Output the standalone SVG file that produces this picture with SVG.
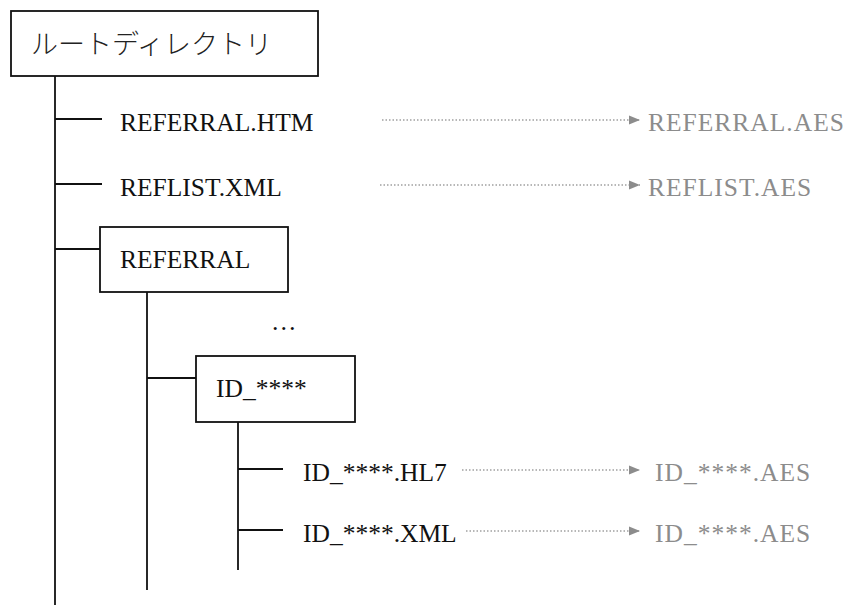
<svg xmlns="http://www.w3.org/2000/svg" width="858" height="614" viewBox="0 0 858 614">
<style>
.box{fill:#fff;stroke:#111;stroke-width:1.8}
.ln{stroke:#111;stroke-width:1.8;fill:none}
.dot{stroke:#a0a0a0;stroke-width:1.3;stroke-dasharray:1.5 2;fill:none}
.t{font-family:"Liberation Serif","Times New Roman",serif;font-size:25.5px;fill:#111}
.g{font-family:"Liberation Serif","Times New Roman",serif;font-size:25.5px;fill:#8c8c8c;letter-spacing:1px}
.jp{font-family:"Noto Sans CJK JP",sans-serif;font-size:27px;fill:#222;font-weight:300}
</style>
<defs>
<marker id="ah" markerWidth="12" markerHeight="10" refX="11" refY="5" orient="auto" markerUnits="userSpaceOnUse">
<path d="M0,0.5 L11,5 L0,9.5 Z" fill="#8c8c8c"/>
</marker>
</defs>
<g id="connectors">
<path class="ln" d="M55,76 V605"/>
<path class="ln" d="M55,119 H102"/>
<path class="ln" d="M55,184 H102"/>
<path class="ln" d="M55,249 H100"/>
<path class="ln" d="M147,292 V590"/>
<path class="ln" d="M147,378 H196"/>
<path class="ln" d="M238,422 V570"/>
<path class="ln" d="M238,469 H283"/>
<path class="ln" d="M238,530 H283"/>
<path class="dot" d="M382,120 H640" marker-end="url(#ah)"/>
<path class="dot" d="M380,185 H640" marker-end="url(#ah)"/>
<path class="dot" d="M462,470 H640" marker-end="url(#ah)"/>
<path class="dot" d="M466,531 H640" marker-end="url(#ah)"/>
</g>
<g id="root">
<rect class="box" x="11" y="11" width="307" height="65"/>
<text class="jp" x="31" y="54">ルートディレクトリ</text>
</g>
<g id="referral-htm">
<text class="t" x="120" y="131">REFERRAL.HTM</text>
</g>
<g id="referral-aes">
<text class="g" x="648" y="131">REFERRAL.AES</text>
</g>
<g id="reflist-xml">
<text class="t" x="120" y="196">REFLIST.XML</text>
</g>
<g id="reflist-aes">
<text class="g" x="648" y="196">REFLIST.AES</text>
</g>
<g id="referral">
<rect class="box" x="100" y="227" width="188" height="65"/>
<text class="t" x="120" y="268">REFERRAL</text>
</g>
<g id="ellipsis">
<text class="t" x="271" y="330">…</text>
</g>
<g id="id-dir">
<rect class="box" x="196" y="356" width="159" height="66"/>
<text class="t" x="216" y="397">ID_****</text>
</g>
<g id="id-hl7">
<text class="t" x="303" y="481">ID_****.HL7</text>
</g>
<g id="id-hl7-aes">
<text class="g" x="655" y="481">ID_****.AES</text>
</g>
<g id="id-xml">
<text class="t" x="303" y="542">ID_****.XML</text>
</g>
<g id="id-xml-aes">
<text class="g" x="655" y="542">ID_****.AES</text>
</g>
</svg>
